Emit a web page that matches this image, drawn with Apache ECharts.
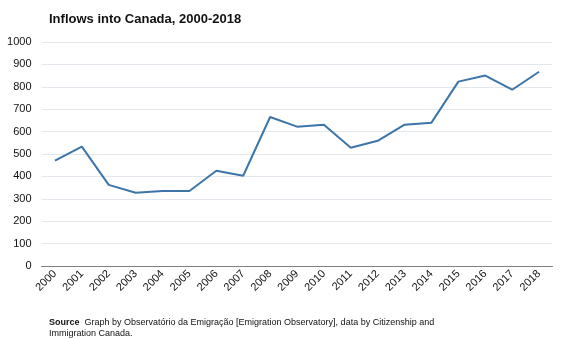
<!DOCTYPE html>
<html><head><meta charset="utf-8">
<script src="https://cdn.jsdelivr.net/npm/echarts@6/dist/echarts.min.js"></script>
<style>html,body{margin:0;padding:0;background:#fff}#c{width:567px;height:340px}</style>
</head><body><div id="c"></div>
<script>
const years = ['2000','2001','2002','2003','2004','2005','2006','2007','2008','2009','2010','2011','2012','2013','2014','2015','2016','2017','2018'];
const inflows = [470,533,362,327,335,335,425,403,665,622,631,528,559,631,640,823,850,787,867];
const yTicks = [0,100,200,300,400,500,600,700,800,900,1000];

const chart = echarts.init(document.getElementById('c'), null, {renderer:'canvas'});
chart.setOption({
  animation:false,
  backgroundColor:'#fff',
  title:{text:'Inflows into Canada, 2000-2018', left:44, top:8,
    textStyle:{fontFamily:'Liberation Sans, Arial', fontSize:13, fontWeight:'bold', color:'#111'}},
  graphic:[{type:'text', left:49, top:317, style:{
    rich:{b:{fontWeight:'bold', fontFamily:'Liberation Sans, Arial', fontSize:9, fill:'#111'},
          n:{fontFamily:'Liberation Sans, Arial', fontSize:9, fill:'#111'}},
    text:'{b|Source}{n|  Graph by Observatório da Emigração [Emigration Observatory], data by Citizenship and}\n{n|Immigration Canada.}',
    lineHeight:11, fontFamily:'Liberation Sans, Arial', fontSize:9, fill:'#111'}}],
  grid:{left:41.5, right:14.5, top:42, bottom:74, containLabel:false},
  xAxis:{type:'category', data:years, boundaryGap:true,
    axisLine:{lineStyle:{color:'#808080', width:1}},
    axisTick:{show:false},
    axisLabel:{rotate:45, interval:0, fontFamily:'Liberation Sans, Arial', fontSize:11, color:'#111', margin:6}},
  yAxis:{type:'value', min:yTicks[0], max:yTicks[yTicks.length-1], interval:100,
    axisLine:{show:false}, axisTick:{show:false},
    splitLine:{lineStyle:{color:'#e3e8ee', width:1}},
    axisLabel:{fontFamily:'Liberation Sans, Arial', fontSize:11, color:'#111', margin:10, formatter:v=>String(v)}},
  series:[{type:'line', data:inflows, symbol:'none', lineStyle:{color:'#3b75a9', width:2}}]
});
</script></body></html>
